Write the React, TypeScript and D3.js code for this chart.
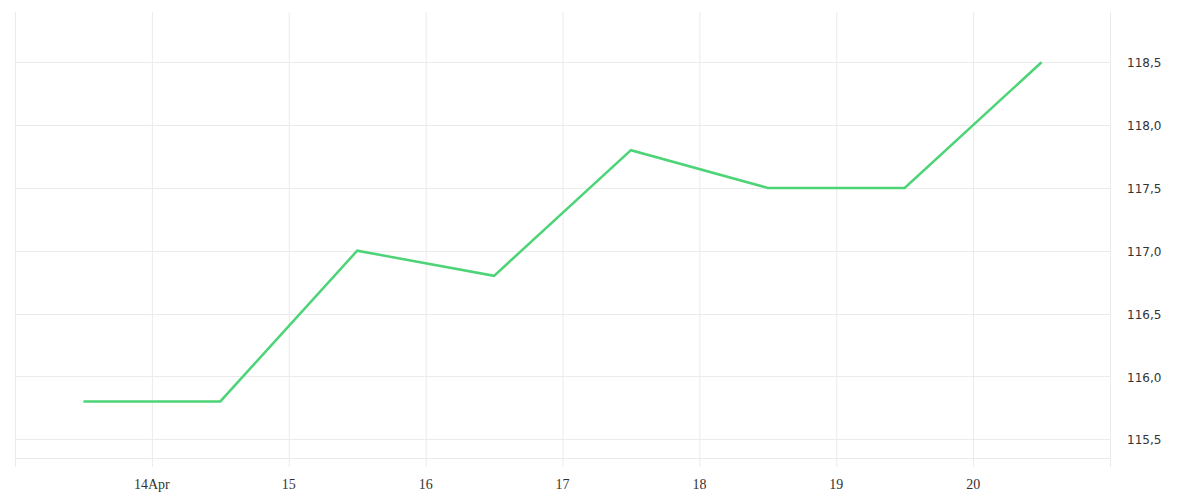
import React, { useEffect, useRef } from 'react';
import * as d3 from 'd3';

// daily closes, plotted at midday
const days = ['2024-04-13', '2024-04-14', '2024-04-15', '2024-04-16', '2024-04-17', '2024-04-18', '2024-04-19', '2024-04-20'];
const values = [115.8, 115.8, 117.0, 116.8, 117.8, 117.5, 117.5, 118.5];
const yTicks = [115.5, 116.0, 116.5, 117.0, 117.5, 118.0, 118.5];

const App: React.FC = () => {
  const ref = useRef<SVGSVGElement>(null);

  useEffect(() => {
    if (!ref.current) return;
    const width = 1200;
    const height = 500;
    const left = 15, right = 1110, top = 12, bottom = 458;

    const svg = d3.select(ref.current);
    svg.selectAll('*').remove();

    const parse = d3.timeParse('%Y-%m-%d');
    const points = days.map((d, i) => ({ date: d3.timeHour.offset(parse(d) as Date, 12), value: values[i] }));

    const x = d3.scaleTime()
      .domain([parse('2024-04-13') as Date, parse('2024-04-21') as Date])
      .range([left, right]);
    const y = d3.scaleLinear()
      .domain([115.35, 118.9])
      .range([bottom, top]);

    const xTicks = d3.timeDay.range(parse('2024-04-14') as Date, parse('2024-04-21') as Date);
    const grid = '#ebebeb';

    // vertical grid
    svg.append('g')
      .selectAll('line')
      .data([parse('2024-04-13') as Date, ...xTicks, parse('2024-04-21') as Date])
      .join('line')
      .attr('x1', d => x(d) + 0.5).attr('x2', d => x(d) + 0.5)
      .attr('y1', top).attr('y2', bottom + 9)
      .attr('stroke', grid);

    // horizontal grid
    svg.append('g')
      .selectAll('line')
      .data([...yTicks, 115.35])
      .join('line')
      .attr('x1', left).attr('x2', right)
      .attr('y1', d => Math.round(y(d)) + 0.5).attr('y2', d => Math.round(y(d)) + 0.5)
      .attr('stroke', grid);

    // x labels
    svg.append('g')
      .selectAll('text')
      .data(xTicks)
      .join('text')
      .attr('x', d => x(d))
      .attr('y', 489)
      .attr('text-anchor', 'middle')
      .attr('font-family', '"Liberation Serif", serif')
      .attr('font-size', 14)
      .attr('fill', '#333')
      .text((d, i) => i === 0 ? d3.timeFormat('%-d%b')(d) : d3.timeFormat('%-d')(d));

    // y labels
    const fmt = (v: number) => v.toFixed(1).replace('.', ',');
    svg.append('g')
      .selectAll('text')
      .data(yTicks)
      .join('text')
      .attr('x', 1127)
      .attr('y', d => y(d) + 1)
      .attr('dy', '0.35em')
      .attr('font-family', '"DejaVu Sans", sans-serif')
      .attr('font-size', 12)
      .attr('fill', '#333')
      .text(d => fmt(d));

    const line = d3.line<{ date: Date, value: number }>()
      .x(d => x(d.date))
      .y(d => y(d.value));

    svg.append('path')
      .datum(points)
      .attr('d', line)
      .attr('fill', 'none')
      .attr('stroke', '#4cd477')
      .attr('stroke-width', 2.5);

    svg.attr('width', width).attr('height', height);
  }, []);

  return (
    <svg ref={ref} width={1200} height={500} style={{ position: 'absolute', left: 0, top: 0 }}></svg>
  );
};

export default App;
